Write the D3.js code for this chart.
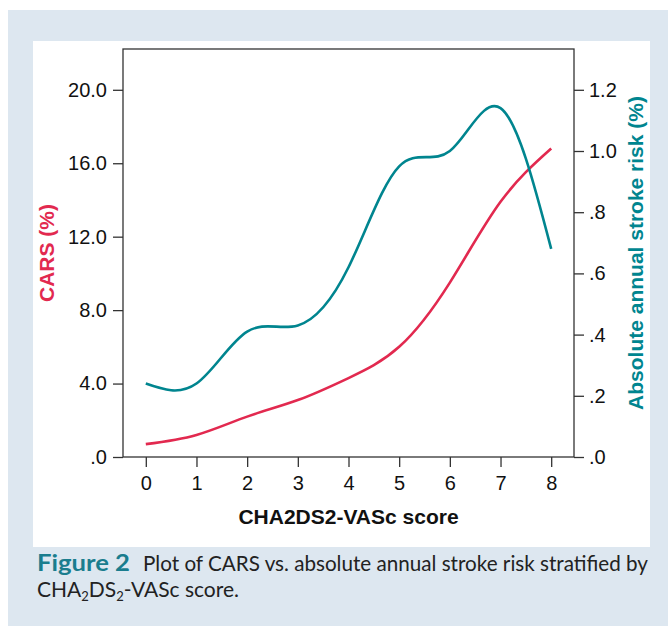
<!DOCTYPE html>
<html><head><meta charset="utf-8">
<script src="https://cdn.jsdelivr.net/npm/d3@7"></script>
<style>body{margin:0;background:#fff}svg{display:block}</style>
</head><body>
<svg id="chart" width="668" height="626"></svg>
<script>
// Data
const scores = [0, 1, 2, 3, 4, 5, 6, 7, 8];
const cars = [0.7, 1.2, 2.2, 3.1, 4.3, 6.0, 9.5, 13.9, 16.8];          // CARS (%), left axis
const strokeRisk = [0.24, 0.24, 0.41, 0.43, 0.62, 0.95, 1.0, 1.14, 0.68]; // absolute annual stroke risk (%), right axis
const leftTicks = [0, 4, 8, 12, 16, 20];
const rightTicks = [0, 0.2, 0.4, 0.6, 0.8, 1.0, 1.2];

const RED = "#e2294f", TEAL = "#00858f";
const svg = d3.select("#chart");

svg.append("rect").attr("x", 8).attr("y", 10).attr("width", 660).attr("height", 616).attr("fill", "#dde7f0");
svg.append("rect").attr("x", 33).attr("y", 41).attr("width", 617).attr("height", 506).attr("fill", "#fff");

const L = 123, R = 574, T = 49, B = 457;
const x = d3.scaleLinear().domain([-0.45, 8.45]).range([L, R]);
const yL = d3.scaleLinear().domain([0, 20 / 0.9]).range([B, T]);
const yR = d3.scaleLinear().domain([0, 1.2 / 0.9]).range([B, T]);

const fmtL = d => d === 0 ? ".0" : d.toFixed(1);
const fmtR = d => d >= 1 ? d.toFixed(1) : "." + Math.round(d * 10);

function style(g) {
  g.select(".domain").remove();
  g.selectAll("line").attr("stroke", "#333").attr("stroke-width", 1.3);
  g.selectAll("text").attr("font-family", "Liberation Sans, Arial, sans-serif").attr("font-size", 20).attr("fill", "#111");
}

svg.append("g").attr("transform", `translate(${L},0)`)
  .call(d3.axisLeft(yL).tickValues(leftTicks).tickFormat(fmtL).tickSize(10).tickPadding(6)).call(style);
svg.append("g").attr("transform", `translate(${R},0)`)
  .call(d3.axisRight(yR).tickValues(rightTicks).tickFormat(fmtR).tickSize(10).tickPadding(5)).call(style);
svg.append("g").attr("transform", `translate(0,${B})`)
  .call(d3.axisBottom(x).tickValues(scores).tickFormat(d3.format("d")).tickSize(10).tickPadding(9)).call(style);

svg.append("rect").attr("x", L).attr("y", T).attr("width", R - L).attr("height", B - T)
  .attr("fill", "none").attr("stroke", "#333").attr("stroke-width", 1.3);

const lineL = d3.line().x((d, i) => x(scores[i])).y(d => yL(d)).curve(d3.curveNatural);
const lineR = d3.line().x((d, i) => x(scores[i])).y(d => yR(d)).curve(d3.curveNatural);

svg.append("path").datum(cars).attr("d", lineL).attr("fill", "none").attr("stroke", RED).attr("stroke-width", 2.6);
svg.append("path").datum(strokeRisk).attr("d", lineR).attr("fill", "none").attr("stroke", TEAL).attr("stroke-width", 2.6);

// Axis titles
svg.append("text").attr("x", (L + R) / 2).attr("y", 524).attr("text-anchor", "middle")
  .attr("font-family", "Liberation Sans, Arial, sans-serif").attr("font-weight", "bold").attr("font-size", 21)
  .attr("fill", "#111").text("CHA2DS2-VASc score");
svg.append("text").attr("transform", "translate(54,253) rotate(-90)").attr("text-anchor", "middle")
  .attr("font-family", "Liberation Sans, Arial, sans-serif").attr("font-weight", "bold").attr("font-size", 21)
  .attr("fill", RED).text("CARS (%)");
svg.append("text").attr("transform", "translate(643,253) rotate(-90)").attr("text-anchor", "middle")
  .attr("font-family", "Liberation Sans, Arial, sans-serif").attr("font-weight", "bold").attr("font-size", 21)
  .attr("fill", TEAL).text("Absolute annual stroke risk (%)");

// Caption
const capFont = "Lato, 'Open Sans', sans-serif";
svg.append("text").attr("x", 37).attr("y", 571).attr("font-family", capFont)
  .attr("font-weight", "bold").attr("font-size", 23).attr("fill", "#1a7d8e")
  .attr("textLength", 93).attr("lengthAdjust", "spacingAndGlyphs").text("Figure 2");
svg.append("text").attr("x", 143).attr("y", 571).attr("font-family", capFont)
  .attr("font-size", 21).attr("fill", "#222")
  .attr("textLength", 505).attr("lengthAdjust", "spacingAndGlyphs")
  .text("Plot of CARS vs. absolute annual stroke risk stratified by");
const cap2 = svg.append("text").attr("x", 37).attr("y", 597)
  .attr("font-family", capFont).attr("font-size", 21).attr("fill", "#222");
cap2.append("tspan").text("CHA");
cap2.append("tspan").attr("font-size", 13).attr("dy", 4).text("2");
cap2.append("tspan").attr("dy", -4).text("DS");
cap2.append("tspan").attr("font-size", 13).attr("dy", 4).text("2");
cap2.append("tspan").attr("dy", -4).text("-VASc score.");
</script>
</body></html>
